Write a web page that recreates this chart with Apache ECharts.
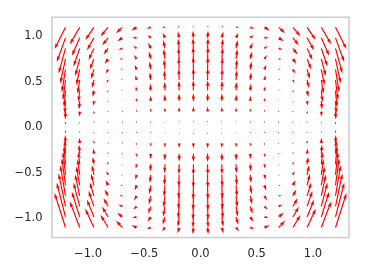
<!DOCTYPE html>
<html><head><meta charset="utf-8">
<script src="https://cdn.jsdelivr.net/npm/echarts@6/dist/echarts.min.js"></script>
<style>html,body{margin:0;padding:0;background:#fff}#c{width:366px;height:277px}</style>
</head><body><div id="c"></div>
<script>
// grid point coordinates
const xs = [-1.2,-1.0737,-0.9474,-0.8211,-0.6947,-0.5684,-0.4421,-0.3158,-0.1895,-0.0632,0.0632,0.1895,0.3158,0.4421,0.5684,0.6947,0.8211,0.9474,1.0737,1.2];
const ys = [-1.1,-0.9842,-0.8684,-0.7526,-0.6368,-0.5211,-0.4053,-0.2895,-0.1737,-0.0579,0.0579,0.1737,0.2895,0.4053,0.5211,0.6368,0.7526,0.8684,0.9842,1.1];
// horizontal vector components, one row per ys value
const uRows = [
[-11.0,-9.9,-8.7,-7.6,-6.4,-5.2,-4.1,-2.9,-1.7,-0.6,0.6,1.7,2.9,4.1,5.2,6.4,7.6,8.7,9.9,11.0],
[-8.8,-7.9,-7.0,-6.0,-5.1,-4.2,-3.3,-2.3,-1.4,-0.5,0.5,1.4,2.3,3.3,4.2,5.1,6.0,7.0,7.9,8.8],
[-6.9,-6.2,-5.4,-4.7,-4.0,-3.3,-2.5,-1.8,-1.1,-0.4,0.4,1.1,1.8,2.5,3.3,4.0,4.7,5.4,6.2,6.9],
[-5.2,-4.6,-4.1,-3.5,-3.0,-2.5,-1.9,-1.4,-0.8,-0.3,0.3,0.8,1.4,1.9,2.5,3.0,3.5,4.1,4.6,5.2],
[-3.7,-3.3,-2.9,-2.5,-2.1,-1.8,-1.4,-1.0,-0.6,-0.2,0.2,0.6,1.0,1.4,1.8,2.1,2.5,2.9,3.3,3.7],
[-2.5,-2.2,-2.0,-1.7,-1.4,-1.2,-0.9,-0.7,-0.4,-0.1,0.1,0.4,0.7,0.9,1.2,1.4,1.7,2.0,2.2,2.5],
[-1.5,-1.3,-1.2,-1.0,-0.9,-0.7,-0.6,-0.4,-0.2,-0.1,0.1,0.2,0.4,0.6,0.7,0.9,1.0,1.2,1.3,1.5],
[-0.8,-0.7,-0.6,-0.5,-0.4,-0.4,-0.3,-0.2,-0.1,0,0,0.1,0.2,0.3,0.4,0.4,0.5,0.6,0.7,0.8],
[-0.3,-0.3,-0.2,-0.2,-0.2,-0.1,-0.1,-0.1,0,0,0,0,0.1,0.1,0.1,0.2,0.2,0.2,0.3,0.3],
[0,0,0,0,0,0,0,0,0,0,0,0,0,0,0,0,0,0,0,0],
[0,0,0,0,0,0,0,0,0,0,0,0,0,0,0,0,0,0,0,0],
[-0.3,-0.3,-0.2,-0.2,-0.2,-0.1,-0.1,-0.1,0,0,0,0,0.1,0.1,0.1,0.2,0.2,0.2,0.3,0.3],
[-0.8,-0.7,-0.6,-0.5,-0.4,-0.4,-0.3,-0.2,-0.1,0,0,0.1,0.2,0.3,0.4,0.4,0.5,0.6,0.7,0.8],
[-1.5,-1.3,-1.2,-1.0,-0.9,-0.7,-0.6,-0.4,-0.2,-0.1,0.1,0.2,0.4,0.6,0.7,0.9,1.0,1.2,1.3,1.5],
[-2.5,-2.2,-2.0,-1.7,-1.4,-1.2,-0.9,-0.7,-0.4,-0.1,0.1,0.4,0.7,0.9,1.2,1.4,1.7,2.0,2.2,2.5],
[-3.7,-3.3,-2.9,-2.5,-2.1,-1.8,-1.4,-1.0,-0.6,-0.2,0.2,0.6,1.0,1.4,1.8,2.1,2.5,2.9,3.3,3.7],
[-5.2,-4.6,-4.1,-3.5,-3.0,-2.5,-1.9,-1.4,-0.8,-0.3,0.3,0.8,1.4,1.9,2.5,3.0,3.5,4.1,4.6,5.2],
[-6.9,-6.2,-5.4,-4.7,-4.0,-3.3,-2.5,-1.8,-1.1,-0.4,0.4,1.1,1.8,2.5,3.3,4.0,4.7,5.4,6.2,6.9],
[-8.8,-7.9,-7.0,-6.0,-5.1,-4.2,-3.3,-2.3,-1.4,-0.5,0.5,1.4,2.3,3.3,4.2,5.1,6.0,7.0,7.9,8.8],
[-11.0,-9.9,-8.7,-7.6,-6.4,-5.2,-4.1,-2.9,-1.7,-0.6,0.6,1.7,2.9,4.1,5.2,6.4,7.6,8.7,9.9,11.0]
];
// vertical vector components, one row per ys value
const vRows = [
[34.4,26.1,18.8,12.4,6.9,2.3,-1.3,-4.1,-5.9,-6.8,-6.8,-5.9,-4.1,-1.3,2.3,6.9,12.4,18.8,26.1,34.4],
[34.2,25.2,17.2,10.1,4.1,-0.9,-4.9,-7.9,-9.9,-10.9,-10.9,-9.9,-7.9,-4.9,-0.9,4.1,10.1,17.2,25.2,34.2],
[32.9,23.6,15.4,8.2,2.0,-3.1,-7.3,-10.3,-12.4,-13.4,-13.4,-12.4,-10.3,-7.3,-3.1,2.0,8.2,15.4,23.6,32.9],
[30.5,21.5,13.5,6.5,0.5,-4.5,-8.5,-11.5,-13.5,-14.5,-14.5,-13.5,-11.5,-8.5,-4.5,0.5,6.5,13.5,21.5,30.5],
[27.2,18.9,11.5,5.1,-0.5,-5.1,-8.8,-11.5,-13.4,-14.3,-14.3,-13.4,-11.5,-8.8,-5.1,-0.5,5.1,11.5,18.9,27.2],
[23.1,15.9,9.5,3.8,-1.0,-5.0,-8.2,-10.6,-12.2,-13.1,-13.1,-12.2,-10.6,-8.2,-5.0,-1.0,3.8,9.5,15.9,23.1],
[18.5,12.6,7.4,2.8,-1.2,-4.4,-7.1,-9.0,-10.3,-11.0,-11.0,-10.3,-9.0,-7.1,-4.4,-1.2,2.8,7.4,12.6,18.5],
[13.4,9.1,5.2,1.9,-1.0,-3.5,-5.4,-6.8,-7.8,-8.3,-8.3,-7.8,-6.8,-5.4,-3.5,-1.0,1.9,5.2,9.1,13.4],
[8.1,5.5,3.1,1.1,-0.7,-2.2,-3.4,-4.2,-4.8,-5.1,-5.1,-4.8,-4.2,-3.4,-2.2,-0.7,1.1,3.1,5.5,8.1],
[2.7,1.8,1.0,0.3,-0.3,-0.7,-1.1,-1.4,-1.6,-1.7,-1.7,-1.6,-1.4,-1.1,-0.7,-0.3,0.3,1.0,1.8,2.7],
[-2.7,-1.8,-1.0,-0.3,0.3,0.7,1.1,1.4,1.6,1.7,1.7,1.6,1.4,1.1,0.7,0.3,-0.3,-1.0,-1.8,-2.7],
[-7.8,-5.2,-3.0,-1.0,0.7,2.2,3.3,4.1,4.7,5.0,5.0,4.7,4.1,3.3,2.2,0.7,-1.0,-3.0,-5.2,-7.8],
[-12.6,-8.5,-4.8,-1.6,1.1,3.4,5.2,6.6,7.5,7.9,7.9,7.5,6.6,5.2,3.4,1.1,-1.6,-4.8,-8.5,-12.6],
[-16.8,-11.4,-6.5,-2.3,1.3,4.3,6.7,8.5,9.7,10.3,10.3,9.7,8.5,6.7,4.3,1.3,-2.3,-6.5,-11.4,-16.8],
[-20.3,-13.8,-8.1,-3.1,1.2,4.8,7.7,9.8,11.3,12.0,12.0,11.3,9.8,7.7,4.8,1.2,-3.1,-8.1,-13.8,-20.3],
[-23.0,-15.8,-9.5,-4.0,0.8,4.8,7.9,10.3,11.9,12.7,12.7,11.9,10.3,7.9,4.8,0.8,-4.0,-9.5,-15.8,-23.0],
[-24.6,-17.2,-10.7,-5.0,0.0,4.0,7.3,9.8,11.4,12.2,12.2,11.4,9.8,7.3,4.0,0.0,-5.0,-10.7,-17.2,-24.6],
[-25.0,-18.0,-11.6,-6.1,-1.4,2.6,5.7,8.1,9.6,10.4,10.4,9.6,8.1,5.7,2.6,-1.4,-6.1,-11.6,-18.0,-25.0],
[-24.2,-17.9,-12.4,-7.5,-3.3,0.2,2.9,5.0,6.4,7.1,7.1,6.4,5.0,2.9,0.2,-3.3,-7.5,-12.4,-17.9,-24.2],
[-21.8,-17.0,-12.8,-9.1,-5.9,-3.3,-1.1,0.4,1.5,2.0,2.0,1.5,0.4,-1.1,-3.3,-5.9,-9.1,-12.8,-17.0,-21.8]
];
const xTicks = [-1.0, -0.5, 0.0, 0.5, 1.0];
const yTicks = [-1.0, -0.5, 0.0, 0.5, 1.0];

const fmt = v => (v < 0 ? '\u2212' : '') + Math.abs(v).toFixed(1);
const data = [];
for (let j = 0; j < ys.length; j++)
  for (let i = 0; i < xs.length; i++)
    data.push([xs[i], ys[j], uRows[j][i], vRows[j][i]]);

const SCALE = 1.0;   // px per vector unit
const W = 1.15;      // shaft width px
function shape(L) {  // L in shaft-width units, arrow along +x from tail
  if (L < 1) {
    const p = [];
    for (let k = 0; k < 6; k++) p.push([0.5 * Math.cos(k * Math.PI / 3), 0.5 * Math.sin(k * Math.PI / 3)]);
    return p;
  }
  if (L < 5) {
    const s = L / 5;
    return [[0,0.5],[0.5,0.5],[0,1.5],[5,0],[0,-1.5],[0.5,-0.5],[0,-0.5]].map(q => [q[0]*s, q[1]*s]);
  }
  return [[0,0.5],[L-4.5,0.5],[L-5,1.5],[L,0],[L-5,-1.5],[L-4.5,-0.5],[0,-0.5]];
}

const chart = echarts.init(document.getElementById('c'), null, {renderer: 'canvas'});
chart.setOption({
  animation: false,
  backgroundColor: '#ffffff',
  grid: {left: 52, top: 17.3, width: 297, height: 220.2, show: true, borderColor: '#cccccc', borderWidth: 1.5, backgroundColor: 'transparent', containLabel: false, outerBoundsMode: 'none'},
  xAxis: {
    type: 'value', min: -1.32, max: 1.32,
    splitLine: {show: false}, axisLine: {show: false}, axisTick: {show: false},
    axisLabel: {customValues: xTicks, formatter: fmt, margin: 10.5, color: '#262626', fontSize: 11.5, fontFamily: 'DejaVu Sans'}
  },
  yAxis: {
    type: 'value', min: -1.21, max: 1.21,
    splitLine: {show: false}, axisLine: {show: false}, axisTick: {show: false},
    axisLabel: {customValues: yTicks, formatter: fmt, margin: 9.5, color: '#262626', fontSize: 11.5, fontFamily: 'DejaVu Sans'}
  },
  series: [{
    type: 'custom',
    clip: false,
    data: data,
    renderItem: function (params, api) {
      const p = api.coord([api.value(0), api.value(1)]);
      const u = api.value(2) * SCALE, v = api.value(3) * SCALE;
      const len = Math.hypot(u, v) / W;
      const ang = Math.atan2(-v, u);
      const c = Math.cos(ang), s = Math.sin(ang);
      const pts = shape(len).map(q => [p[0] + W * (q[0] * c - q[1] * s), p[1] + W * (q[0] * s + q[1] * c)]);
      return {type: 'polygon', shape: {points: pts}, style: {fill: '#ff0000', stroke: null}};
    }
  }]
});
</script></body></html>
